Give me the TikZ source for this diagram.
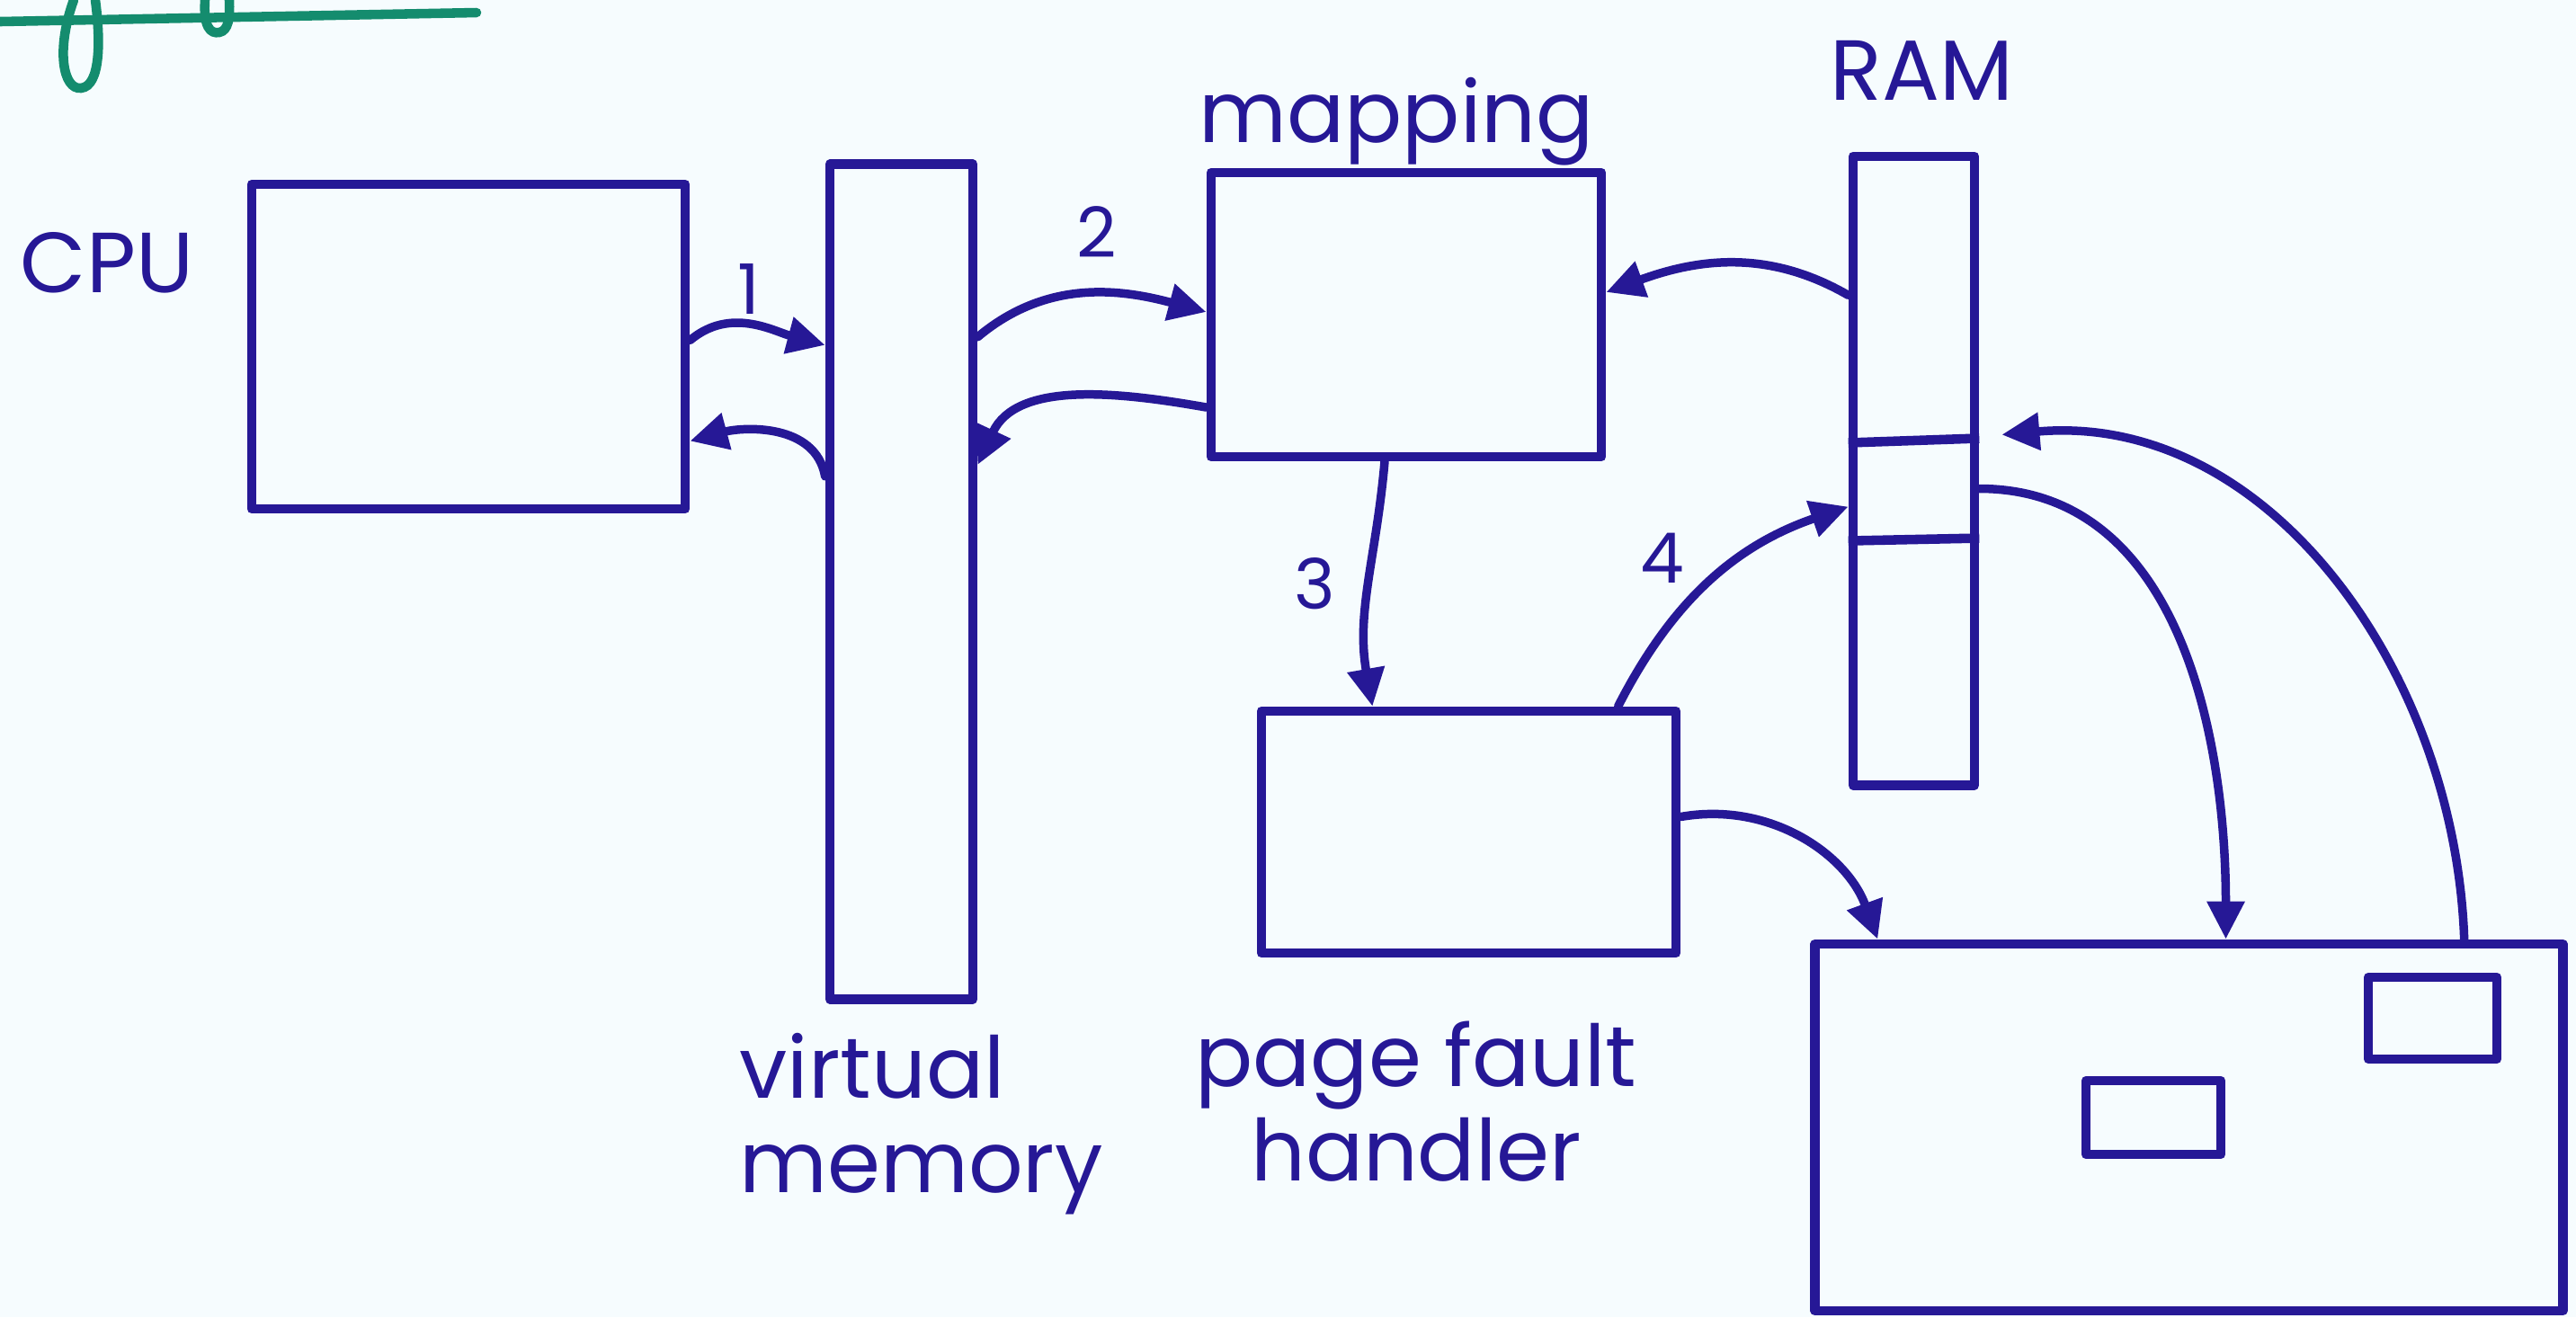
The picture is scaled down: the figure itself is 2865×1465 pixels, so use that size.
\documentclass[tikz,border=0pt]{standalone}
\usepackage{fontspec}
\setmainfont{Poppins}
\usetikzlibrary{arrows.meta,calc}
\definecolor{inkblue}{RGB}{38,24,150}
\definecolor{pengreen}{RGB}{20,140,110}
\definecolor{paper}{RGB}{246,252,254}
\begin{document}
\begin{tikzpicture}[x=0.01cm,y=0.01cm,
  ink/.style={draw=inkblue, line width=3pt, line cap=round, line join=round},
  box/.style={ink, rectangle, inner sep=0pt},
  conn/.style={draw=inkblue, line width=2.7pt, line cap=round, -{Triangle[length=0.42cm,width=0.4cm]}},
  lbl/.style={text=inkblue, font=\fontsize{27}{30}\selectfont, align=center, inner sep=0pt},
  num/.style={text=inkblue, font=\fontsize{22}{24}\selectfont, inner sep=0pt}]
\fill[paper] (0,0) rectangle (2865,-1465);
\useasboundingbox (0,0) rectangle (2865,-1465);

% green stroke (cut-off title underline)
\draw[draw=pengreen, line width=3pt, line cap=round] (0,-24) -- (530,-14);
\draw[draw=pengreen, line width=3pt, line cap=round] (82,0) .. controls (62,-55) and (70,-100) .. (90,-98) .. controls (112,-96) and (112,-45) .. (106,0);
\draw[draw=pengreen, line width=3pt, line cap=round] (228,0) .. controls (226,-30) and (234,-38) .. (244,-36) .. controls (254,-34) and (256,-20) .. (255,0);

% boxes
\node[box, minimum width=4.82cm, minimum height=3.61cm] (cpu) at (521,-385.5) {};
\node[box, minimum width=1.59cm, minimum height=9.28cm] (vm) at (1002.5,-647) {};
\node[box, minimum width=4.34cm, minimum height=3.16cm] (map) at (1564,-350) {};
\node[box, minimum width=1.35cm, minimum height=6.99cm] (ram) at (2128.5,-523.5) {};
\node[box, minimum width=4.61cm, minimum height=2.69cm] (pfh) at (1633.5,-925.5) {};
\node[box, minimum width=8.31cm, minimum height=4.08cm] (disk) at (2434.5,-1254) {};
\node[box, minimum width=1.43cm, minimum height=0.91cm] (s1) at (2705.5,-1132.5) {};
\node[box, minimum width=1.50cm, minimum height=0.82cm] (s2) at (2395,-1243) {};

% RAM page dividers
\draw[ink, line cap=butt] ([yshift=0.31cm]ram.west) -- ([yshift=0.36cm]ram.east);
\draw[ink, line cap=butt] ([yshift=-0.78cm]ram.west) -- ([yshift=-0.75cm]ram.east);

% labels
\node[lbl] (lcpu) at (119,-292) {CPU};
\node[lbl] (lmap) at (1553,-135) {mapping};
\node[lbl] (lram) at (2137,-78) {RAM};
\node[lbl, align=left, anchor=west] (lvm) at (822,-1250) {virtual\\memory};
\node[lbl] (lpfh) at (1575,-1225) {page fault\\handler};
\node[num] (n1) at (833,-322) {1};
\node[num] (n2) at (1220,-258) {2};
\node[num] (n3) at (1462,-649) {3};
\node[num] (n4) at (1849,-621) {4};

% connectors
\draw[conn] ([yshift=0.07cm]cpu.east) to[out=40,in=165] ([yshift=2.63cm]vm.west);
\draw[conn] ([yshift=1.17cm]vm.west) to[out=100,in=15] ([yshift=-1.05cm]cpu.east);
\draw[conn] ([yshift=2.72cm]vm.east) to[out=40,in=165] ([yshift=0.03cm]map.west);
\draw[conn] ([yshift=-1.03cm]map.west) to[out=170,in=65] ([yshift=1.30cm]vm.east);
\draw[conn] ([yshift=1.95cm]ram.west) to[out=150,in=20] ([yshift=0.25cm]map.east);
\draw[conn] ([xshift=-0.24cm]map.south) to[out=-95,in=100] ([xshift=-1.07cm]pfh.north);
\draw[conn] ([xshift=1.66cm]pfh.north) to[bend left=22] ([yshift=-0.40cm]ram.west);
\draw[conn] ([yshift=0.17cm]pfh.east) to[out=10,in=110] ([xshift=-3.46cm]disk.north);
\draw[conn] ([yshift=-0.20cm]ram.east) to[out=0,in=90] ([xshift=0.41cm]disk.north);
\draw[conn] ([xshift=3.06cm]disk.north) to[out=92,in=5] ([xshift=0.25cm,yshift=0.40cm]ram.east);
\end{tikzpicture}
\end{document}
